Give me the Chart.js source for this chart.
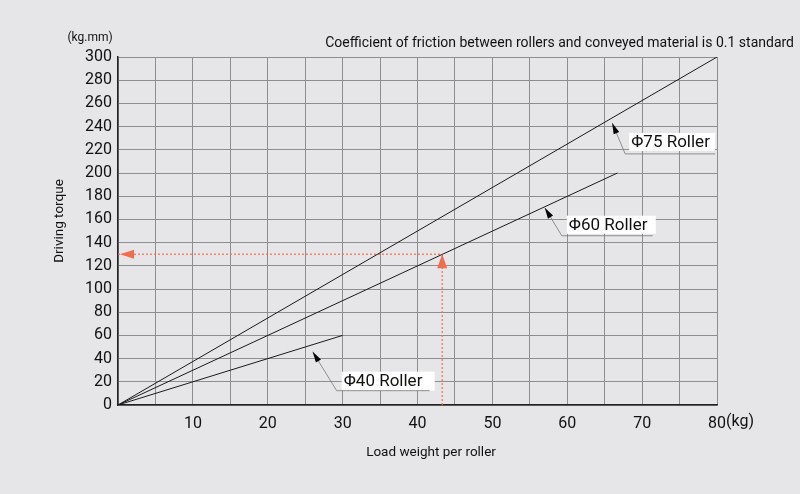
<!DOCTYPE html>
<html>
<head>
<meta charset="utf-8">
<script src="https://cdn.jsdelivr.net/npm/chart.js@4.4.1/dist/chart.umd.min.js"></script>
<style>
html,body{margin:0;padding:0;background:#e6e6e8;}
#wrap{width:800px;height:494px;}
</style>
</head>
<body>
<div id="wrap"><canvas id="c" width="800" height="494"></canvas></div>
<script>
// ---- data ----
const seriesNames = ['Φ75 Roller', 'Φ60 Roller', 'Φ40 Roller'];
const loadEnd = [80, 66.7, 30];          // kg at line end
const torqueEnd = [300, 200, 60];        // kg.mm at line end
const labelAnchorLoad = [66, 57, 26];    // where each label's arrow points (kg)
const exampleLoad = 43.3;                // worked example
const exampleTorque = 130;
const xTickStep = 5, xMax = 80;
const yTickStep = 20, yMax = 300;
const titleText = 'Coefficient of friction between rollers and conveyed material is 0.1 standard';
const yUnit = '(kg.mm)';
const xUnit = '(kg)';
const yTitle = 'Driving torque';
const xTitle = 'Load weight per roller';

const FONT = 'Roboto, "DejaVu Sans", sans-serif';
const ORANGE = '#f26d4b';

const datasets = seriesNames.map((n, i) => ({
  label: n,
  data: [{x: 0, y: 0}, {x: loadEnd[i], y: torqueEnd[i]}],
  showLine: true, borderColor: '#1a1a1a', borderWidth: 1, pointRadius: 0, fill: false
}));
datasets.push({
  label: 'exH', data: [{x: 0, y: exampleTorque}, {x: exampleLoad, y: exampleTorque}],
  showLine: true, borderColor: ORANGE, borderWidth: 1.2, borderDash: [2, 2], pointRadius: 0
});
datasets.push({
  label: 'exV', data: [{x: exampleLoad, y: 0}, {x: exampleLoad, y: exampleTorque}],
  showLine: true, borderColor: ORANGE, borderWidth: 1.2, borderDash: [2, 2], pointRadius: 0
});

// label offsets (px) relative to the arrow tip
const labelOffsets = [
  {drop: 5, lx: 13, ly: 31, ux: 103, bx: 17, by: 10, bw: 86, bh: 18},
  {drop: 1, lx: 17, ly: 28, ux: 108, bx: 22, by: 8, bw: 89, bh: 18},
  {drop: 7, lx: 24, ly: 39, ux: 117, bx: 29, by: 20, bw: 93, bh: 19}
];

const deco = {
  id: 'deco',
  beforeDraw(chart) {
    const ctx = chart.ctx;
    ctx.save();
    ctx.fillStyle = '#e6e6e8';
    ctx.fillRect(0, 0, chart.width, chart.height);
    ctx.restore();
  },
  afterDraw(chart) {
    const ctx = chart.ctx, xs = chart.scales.x, ys = chart.scales.y;
    ctx.save();
    // arrowheads for the worked example
    const ex = xs.getPixelForValue(exampleLoad), ey = ys.getPixelForValue(exampleTorque);
    ctx.fillStyle = ORANGE;
    ctx.beginPath();
    ctx.moveTo(ex, ey);
    ctx.lineTo(ex - 5, ey + 14);
    ctx.lineTo(ex + 5, ey + 14);
    ctx.closePath(); ctx.fill();
    const hx = xs.getPixelForValue(0) + 2;
    ctx.beginPath();
    ctx.moveTo(hx, ey);
    ctx.lineTo(hx + 14, ey - 4.5);
    ctx.lineTo(hx + 14, ey + 4.5);
    ctx.closePath(); ctx.fill();

    // series labels with leader lines
    seriesNames.forEach((n, i) => {
      const slope = torqueEnd[i] / loadEnd[i];
      const o = labelOffsets[i];
      const tx = xs.getPixelForValue(labelAnchorLoad[i]);
      const ty = ys.getPixelForValue(labelAnchorLoad[i] * slope) + o.drop;
      const ex2 = tx + o.lx, ey2 = ty + o.ly;
      ctx.fillStyle = '#ffffff';
      ctx.fillRect(tx + o.bx, ty + o.by, o.bw, o.bh);
      ctx.strokeStyle = '#777';
      ctx.lineWidth = 0.8;
      ctx.beginPath();
      ctx.moveTo(tx, ty);
      ctx.lineTo(ex2, ey2);
      ctx.lineTo(tx + o.ux, ey2);
      ctx.stroke();
      const ang = Math.atan2(ey2 - ty, ex2 - tx);
      const L = 11, W = 3;
      ctx.fillStyle = '#000';
      ctx.beginPath();
      ctx.moveTo(tx, ty);
      ctx.lineTo(tx + L * Math.cos(ang) - W * Math.sin(ang), ty + L * Math.sin(ang) + W * Math.cos(ang));
      ctx.lineTo(tx + L * Math.cos(ang) + W * Math.sin(ang), ty + L * Math.sin(ang) - W * Math.cos(ang));
      ctx.closePath(); ctx.fill();
      ctx.fillStyle = '#111';
      ctx.font = '17px ' + FONT;
      ctx.textAlign = 'left';
      ctx.textBaseline = 'middle';
      ctx.fillText(n, tx + o.bx + 2, ty + o.by + o.bh / 2 + 1);
    });

    // texts
    ctx.fillStyle = '#111';
    ctx.font = '14px ' + FONT;
    ctx.textAlign = 'right';
    ctx.textBaseline = 'alphabetic';
    ctx.fillText(titleText, 794, 47);

    ctx.font = '12px ' + FONT;
    ctx.textAlign = 'center';
    ctx.fillText(yUnit, 90, 41);

    ctx.font = '16px ' + FONT;
    ctx.textAlign = 'left';
    ctx.textBaseline = 'middle';
    const x80 = xs.getPixelForValue(xMax);
    ctx.fillText(xUnit, x80 + 9, 422);

    ctx.font = '13.5px ' + FONT;
    ctx.textAlign = 'center';
    ctx.fillText(xTitle, 431, 453);

    ctx.translate(60, 221);
    ctx.rotate(-Math.PI / 2);
    ctx.fillText(yTitle, 0, 0);
    ctx.restore();
  }
};

new Chart(document.getElementById('c'), {
  type: 'scatter',
  data: {datasets},
  plugins: [deco],
  options: {
    responsive: false,
    animation: false,
    devicePixelRatio: 1,
    layout: {padding: {left: 0, right: 83, top: 57, bottom: 0}},
    plugins: {legend: {display: false}, tooltip: {enabled: false}},
    scales: {
      x: {
        type: 'linear', min: 0, max: xMax,
        afterFit(s) { s.height = 89; },
        grid: {color: '#8e8e8e', lineWidth: 1, drawTicks: false},
        border: {color: '#222', width: 1.5},
        ticks: {
          stepSize: xTickStep, autoSkip: false, maxRotation: 0, padding: 9,
          color: '#111', font: {family: FONT, size: 16},
          callback: v => (v > 0 && v % 10 === 0) ? String(v) : ''
        }
      },
      y: {
        type: 'linear', min: 0, max: yMax,
        afterFit(s) { s.width = 118; },
        grid: {color: '#8e8e8e', lineWidth: 1, drawTicks: false},
        border: {color: '#222', width: 1.5},
        ticks: {
          stepSize: yTickStep, autoSkip: false, padding: 6,
          color: '#111', font: {family: FONT, size: 16}
        }
      }
    }
  }
});
</script>
</body>
</html>
